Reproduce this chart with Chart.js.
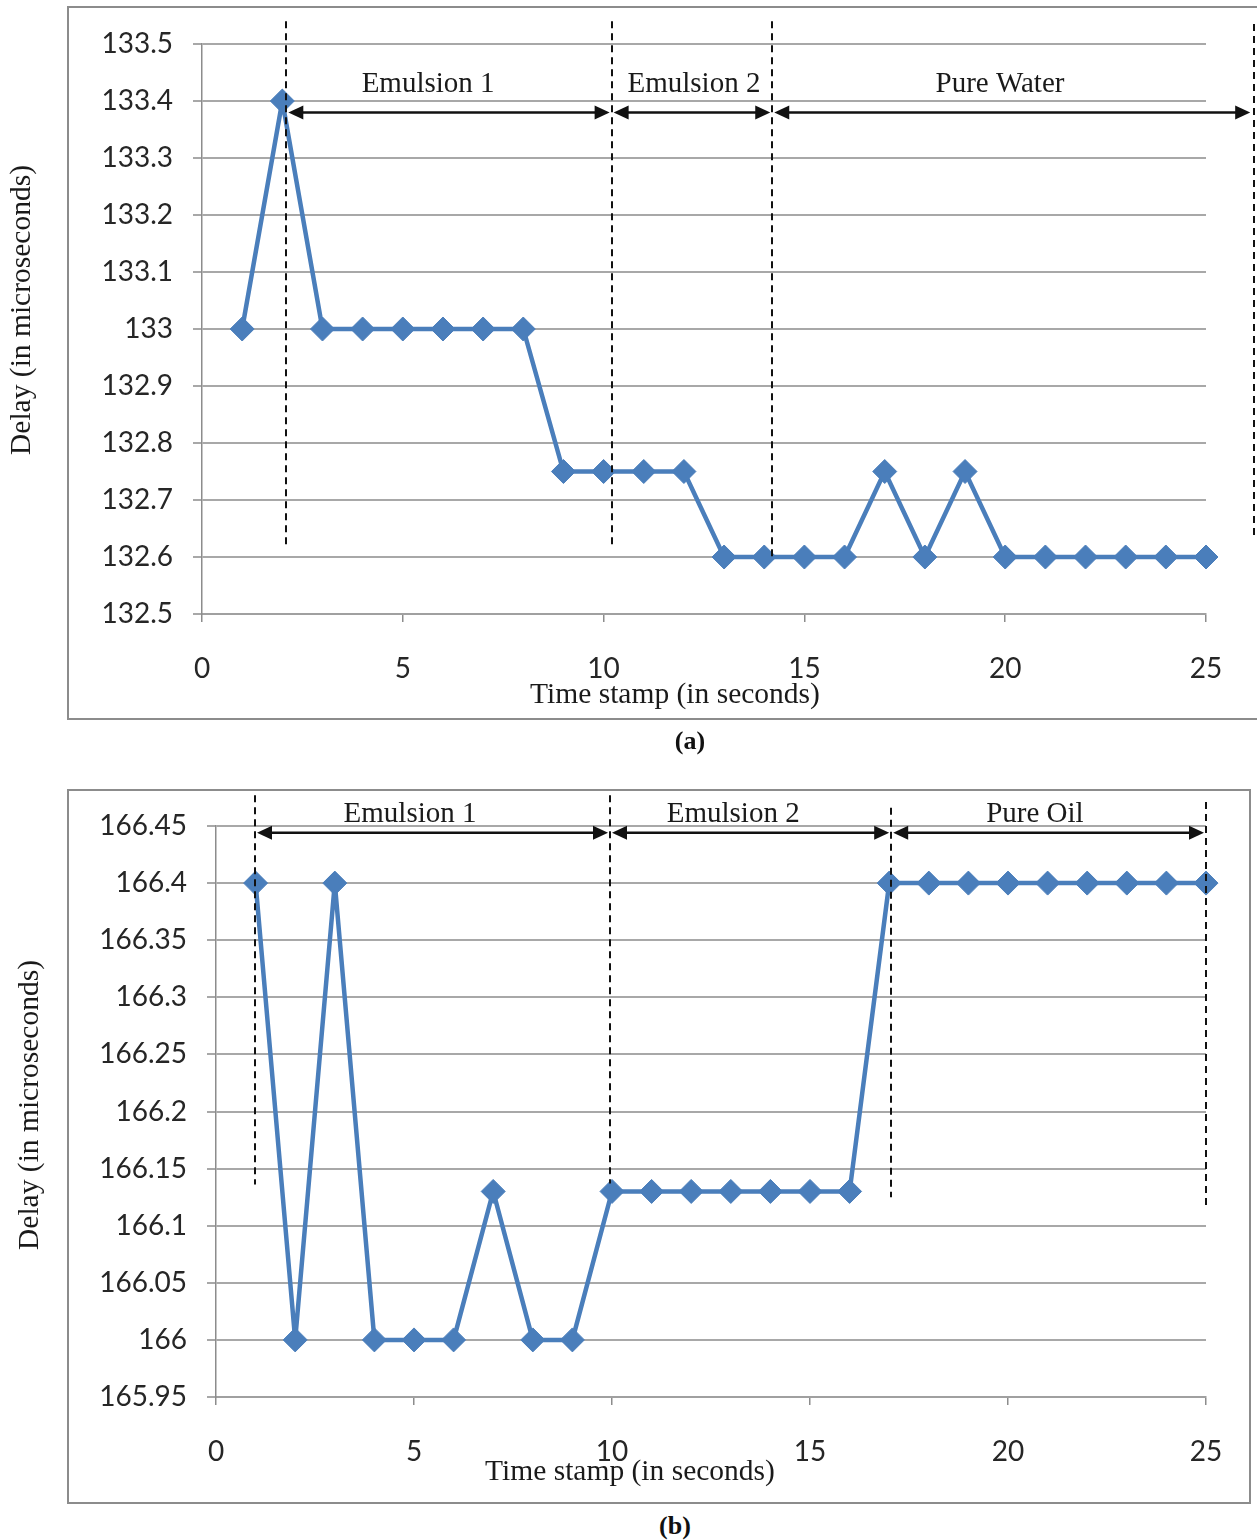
<!DOCTYPE html>
<html><head><meta charset="utf-8">
<script src="https://cdn.jsdelivr.net/npm/chart.js@4.4.1/dist/chart.umd.min.js"></script>
<style>
body{margin:0;background:#fff;width:1257px;height:1540px;position:relative;overflow:hidden}
.box{position:absolute;border:2px solid #8c8c8c;box-sizing:border-box}
.wrap{position:absolute;left:0;width:1257px}
.cap{position:absolute;font:bold 26px "Liberation Serif",serif;color:#111;transform:translate(-50%,-50%)}
</style></head><body>
<div class="box" style="left:67px;top:6px;width:1200px;height:714px"></div>
<div class="box" style="left:67px;top:789px;width:1184px;height:715px"></div>
<div class="wrap" style="top:0;height:730px"><canvas id="ca"></canvas></div>
<div class="wrap" style="top:760px;height:740px"><canvas id="cb"></canvas></div>
<div class="cap" style="left:690px;top:741px">(a)</div>
<div class="cap" style="left:675px;top:1526px">(b)</div>
<script>
// ---------- data ----------
const timeA = [1,2,3,4,5,6,7,8,9,10,11,12,13,14,15,16,17,18,19,20,21,22,23,24,25];
const delayA = [133,133.4,133,133,133,133,133,133,132.75,132.75,132.75,132.75,132.6,132.6,132.6,132.6,132.75,132.6,132.75,132.6,132.6,132.6,132.6,132.6,132.6];
const timeB = [1,2,3,4,5,6,7,8,9,10,11,12,13,14,15,16,17,18,19,20,21,22,23,24,25];
const delayB = [166.4,166,166.4,166,166,166,166.13,166,166,166.13,166.13,166.13,166.13,166.13,166.13,166.13,166.4,166.4,166.4,166.4,166.4,166.4,166.4,166.4,166.4];
const xTickValues = [0,5,10,15,20,25];
const yTickValuesA = [132.5,132.6,132.7,132.8,132.9,133,133.1,133.2,133.3,133.4,133.5];
const yTickValuesB = [165.95,166,166.05,166.1,166.15,166.2,166.25,166.3,166.35,166.4,166.45];
const xTitle = 'Time stamp (in seconds)';
const yTitle = 'Delay (in microseconds)';

// phase annotations (a)
const phaseLabelsA = ['Emulsion 1','Emulsion 2','Pure Water'];
const phaseStartA = [2.1,10.2,14.2];
const phaseEndA = [10.2,14.2,26.15];
const phaseLabelXA = [5.63,12.25,19.87];
const dividerXA = [2.1,10.2,14.2,26.2];
const dividerTopA = [133.54,133.54,133.54,133.535];
const dividerBottomA = [132.615,132.615,132.595,132.633];
const arrowYA = 133.38, labelYA = 133.43;

// phase annotations (b)
const phaseLabelsB = ['Emulsion 1','Emulsion 2','Pure Oil'];
const phaseStartB = [0.985,9.95,17.05];
const phaseEndB = [9.95,17.05,25.0];
const phaseLabelXB = [4.9,13.06,20.68];
const dividerXB = [0.985,9.95,17.05,25.0];
const dividerTopB = [166.477,166.477,166.466,166.471];
const dividerBottomB = [166.136,166.137,166.125,166.118];
const arrowYB = 166.444, labelYB = 166.46;

// ---------- drawing ----------
const BLUE = '#4a7ebb';
const SERIF = '"Liberation Serif","Times New Roman",serif';

function arrowHead(ctx, tipX, y, dir){
  const L = 15, H = 7;
  ctx.beginPath();
  ctx.moveTo(tipX, y);
  ctx.lineTo(tipX - dir*L, y - H);
  ctx.lineTo(tipX - dir*L, y + H);
  ctx.closePath();
  ctx.fill();
}

function overlay(o){
  return {
    id:'overlay',
    afterDatasetsDraw(chart){
      const {ctx, scales:{x,y}} = chart;
      ctx.save();
      // dashed dividers
      ctx.strokeStyle = '#111'; ctx.lineWidth = 2; ctx.setLineDash([7,5]);
      o.divX.forEach((v,i)=>{
        const px = Math.round(x.getPixelForValue(v));
        ctx.beginPath();
        ctx.moveTo(px, y.getPixelForValue(o.divTop[i]));
        ctx.lineTo(px, y.getPixelForValue(o.divBottom[i]));
        ctx.stroke();
      });
      ctx.setLineDash([]);
      // double arrows
      const ay = y.getPixelForValue(o.arrowY);
      ctx.fillStyle = '#111'; ctx.lineWidth = 2.5;
      o.start.forEach((s,i)=>{
        const x1 = x.getPixelForValue(s) + 2, x2 = x.getPixelForValue(o.end[i]) - 2;
        ctx.beginPath(); ctx.moveTo(x1+8, ay); ctx.lineTo(x2-8, ay); ctx.stroke();
        arrowHead(ctx, x1, ay, -1);
        arrowHead(ctx, x2, ay, 1);
      });
      // phase labels
      ctx.font = '29px ' + SERIF; ctx.fillStyle = '#1a1a1a';
      ctx.textAlign = 'center'; ctx.textBaseline = 'middle';
      const ly = y.getPixelForValue(o.labelY);
      o.labels.forEach((t,i)=> ctx.fillText(t, x.getPixelForValue(o.labelX[i]), ly));
      // axis titles
      ctx.font = '29.5px ' + SERIF;
      ctx.fillText(xTitle, o.xTitlePos[0], o.xTitlePos[1]);
      ctx.translate(o.yTitlePos[0], o.yTitlePos[1]);
      ctx.rotate(-Math.PI/2);
      ctx.fillText(yTitle, 0, 0);
      ctx.restore();
    }
  };
}

function fmt(v){ return String(parseFloat(Number(v).toFixed(2))); }

function makeChart(id, xs, ys, yTicks, areaLeft, areaTop, areaBottomGap, ov){
  const pts = xs.map((t,i)=>({x:t, y:ys[i]}));
  return new Chart(document.getElementById(id), {
    type:'line',
    data:{datasets:[{
      data:pts, borderColor:BLUE, backgroundColor:BLUE, borderWidth:4.5,
      pointStyle:'rectRot', pointRadius:12, pointHoverRadius:12,
      pointBackgroundColor:BLUE, pointBorderColor:BLUE, pointBorderWidth:1,
      tension:0, clip:false
    }]},
    options:{
      responsive:true, maintainAspectRatio:false, animation:false,
      layout:{padding:{top:areaTop, right:51, left:0, bottom:0}},
      plugins:{legend:{display:false}, tooltip:{enabled:false}},
      scales:{
        x:{
          type:'linear', min:0, max:25,
          afterBuildTicks(s){ s.ticks = xTickValues.map(v=>({value:v})); },
          afterFit(s){ s.height = areaBottomGap; },
          grid:{drawOnChartArea:false, drawTicks:true, tickLength:8, color:'#8c8c8c', lineWidth:1.5},
          border:{display:true, color:'#a0a0a0', width:2},
          ticks:{font:{family:'Lato', size:28}, color:'#262626', padding:30, maxRotation:0, autoSkip:false,
                 callback:v=>String(v)}
        },
        y:{
          type:'linear', min:yTicks[0], max:yTicks[yTicks.length-1],
          afterBuildTicks(s){ s.ticks = yTicks.map(v=>({value:v})); },
          afterFit(s){ s.width = areaLeft; },
          grid:{drawTicks:true, tickLength:9, color:'#a8a8a8', lineWidth:2},
          border:{display:true, color:'#8c8c8c', width:1.5},
          ticks:{font:{family:'Lato', size:28}, color:'#262626', padding:20, autoSkip:false,
                 callback:v=>fmt(v)}
        }
      }
    },
    plugins:[overlay(ov)]
  });
}

makeChart('ca', timeA, delayA, yTickValuesA, 202, 44, 730-614, {
  divX:dividerXA, divTop:dividerTopA, divBottom:dividerBottomA,
  start:phaseStartA, end:phaseEndA, arrowY:arrowYA,
  labels:phaseLabelsA, labelX:phaseLabelXA, labelY:labelYA,
  xTitlePos:[675,695], yTitlePos:[22,310]
});
makeChart('cb', timeB, delayB, yTickValuesB, 216, 66, 740-637, {
  divX:dividerXB, divTop:dividerTopB, divBottom:dividerBottomB,
  start:phaseStartB, end:phaseEndB, arrowY:arrowYB,
  labels:phaseLabelsB, labelX:phaseLabelXB, labelY:labelYB,
  xTitlePos:[630,712], yTitlePos:[30,345]
});
</script>
</body></html>
